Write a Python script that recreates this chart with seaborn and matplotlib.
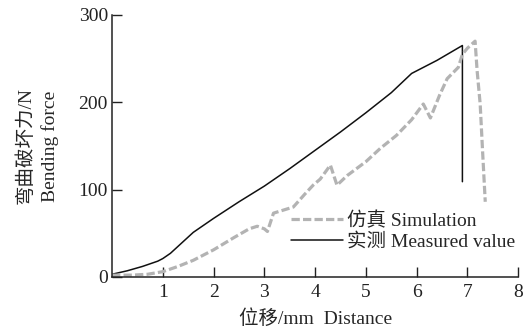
import matplotlib
matplotlib.use("Agg")
import matplotlib.pyplot as plt
import seaborn as sns
from matplotlib.lines import Line2D

# Data
meas_x = [0, 0.3, 0.6, 0.9, 1.0, 1.15, 1.3, 1.45, 1.6, 2, 2.5, 3, 3.5, 4, 4.5, 5, 5.5, 5.9, 6.4, 6.9, 6.9]
meas_y = [3, 7, 12, 18, 21, 27, 35, 43, 51, 67, 86, 104, 124, 145, 166, 188, 211, 233, 248, 265, 109]

sim_x = [0, 0.4, 0.7, 1.0, 1.3, 1.6, 2.0, 2.4, 2.7, 2.86, 3.0, 3.06, 3.18, 3.57, 3.8, 3.96,
         4.1, 4.3, 4.43, 4.63, 5.0, 5.28, 5.6, 5.9, 6.13, 6.27, 6.45, 6.6, 6.82, 6.9, 7.0,
         7.15, 7.19, 7.25, 7.3, 7.35]
sim_y = [2, 2, 3, 6, 12, 19, 31, 45, 55, 58, 55, 52, 73, 80, 95, 105,
         112, 128, 105, 116, 132, 147, 162, 180, 198, 182, 208, 227, 240, 255, 262,
         270, 236, 198, 141, 86]

x_ticks = [1, 2, 3, 4, 5, 6, 7, 8]
y_ticks = [0, 100, 200, 300]

sns.set_style("ticks")
plt.rcParams['font.family'] = ['Liberation Serif', 'Noto Sans CJK SC']
plt.rcParams['font.size'] = 13

fig = plt.figure(figsize=(5.31, 3.32), dpi=100)
ax = fig.add_axes([0.211, 0.166, 0.765, 0.789])

sim_color = "#b3b3b3"
sns.lineplot(x=meas_x, y=meas_y, ax=ax, color="#111111", linewidth=1.1,
             estimator=None, sort=False)
sns.lineplot(x=sim_x, y=sim_y, ax=ax, color=sim_color, linewidth=2.3,
             estimator=None, sort=False, dashes=False)
ax.lines[-1].set_dashes((2.6, 1.0))

ax.set_xlim(0, 8)
ax.set_ylim(0, 300)
ax.set_xticks(x_ticks)
ax.set_yticks(y_ticks)
ax.tick_params(direction='in', length=7, width=1.0, labelsize=14, colors="#222222")
ax.tick_params(axis='x', pad=5)
ax.tick_params(axis='y', pad=3)
sns.despine(ax=ax)
for s in ['left', 'bottom']:
    ax.spines[s].set_linewidth(1.1)
    ax.spines[s].set_color("#222222")

ax.set_xlabel("位移/mm  Distance", fontsize=14, labelpad=6)
ax.set_ylabel("弯曲破坏力/N\nBending force", fontsize=14, labelpad=14, linespacing=1.45)

handles = [
    Line2D([], [], color=sim_color, linewidth=2.3, dashes=(2.6, 1.0)),
    Line2D([], [], color="#111111", linewidth=1.1),
]
ax.legend(handles, ["仿真 Simulation", "实测 Measured value"], frameon=False,
          loc='center left', bbox_to_anchor=(0.44, 0.175), borderaxespad=0,
          borderpad=0, handlelength=2.7, handletextpad=0.2, labelspacing=0.15,
          fontsize=14)

fig.savefig("out.png", dpi=100)
